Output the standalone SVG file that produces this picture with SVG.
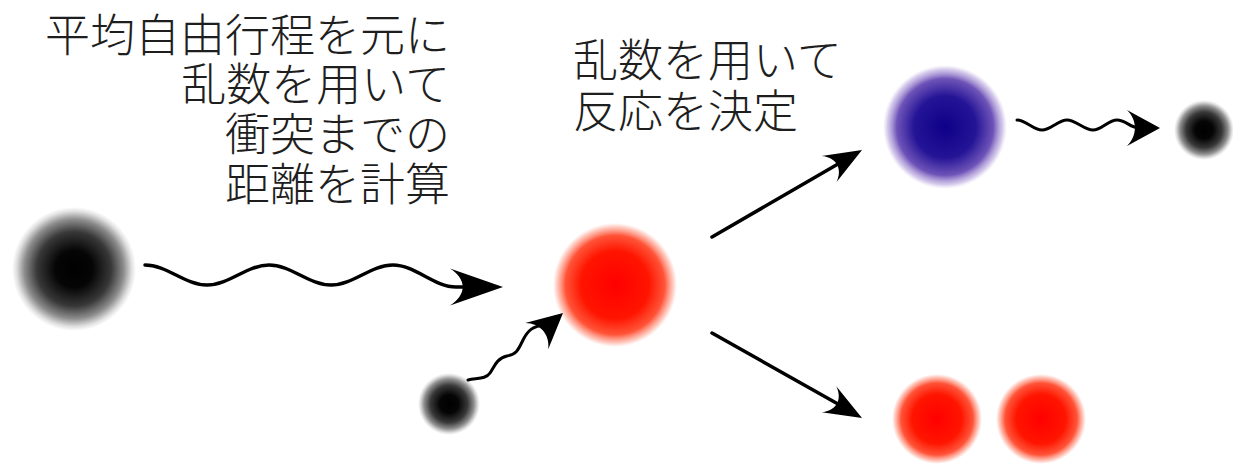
<svg xmlns="http://www.w3.org/2000/svg" width="1233" height="470" viewBox="0 0 1233 470" xmlns:xlink="http://www.w3.org/1999/xlink">
  <style>
    .label { font-family: "Noto Sans CJK JP", "Noto Sans CJK SC", sans-serif; font-size: 45px; font-weight: 300; fill: #1e1e1e; }
    .right { text-anchor: end; }
    .wire { fill: none; stroke: #000; stroke-width: 3.5; stroke-linecap: round; stroke-linejoin: round; }
    .thin { stroke-width: 3; }
    .head { fill: #000; }
  </style>
  <defs>
    <!-- soft-edged particles -->
    <radialGradient id="gBlack" cx="0.5" cy="0.5" r="0.5">
      <stop offset="0" stop-color="#000" stop-opacity="1"/>
      <stop offset="0.3" stop-color="#000" stop-opacity="0.98"/>
      <stop offset="0.6" stop-color="#000" stop-opacity="0.78"/>
      <stop offset="0.8" stop-color="#000" stop-opacity="0.45"/>
      <stop offset="0.93" stop-color="#000" stop-opacity="0.12"/>
      <stop offset="1" stop-color="#000" stop-opacity="0"/>
    </radialGradient>
    <radialGradient id="gRed" cx="0.5" cy="0.5" r="0.5">
      <stop offset="0" stop-color="#ff0000" stop-opacity="1"/>
      <stop offset="0.55" stop-color="#ff1500" stop-opacity="1"/>
      <stop offset="0.8" stop-color="#ff3515" stop-opacity="0.85"/>
      <stop offset="0.93" stop-color="#ff5a3a" stop-opacity="0.35"/>
      <stop offset="1" stop-color="#ff7050" stop-opacity="0"/>
    </radialGradient>
    <radialGradient id="gBlue" cx="0.5" cy="0.5" r="0.5">
      <stop offset="0" stop-color="#0e0088" stop-opacity="1"/>
      <stop offset="0.5" stop-color="#241496" stop-opacity="1"/>
      <stop offset="0.78" stop-color="#5a3cae" stop-opacity="0.88"/>
      <stop offset="0.93" stop-color="#9478cc" stop-opacity="0.4"/>
      <stop offset="1" stop-color="#b8a0e0" stop-opacity="0"/>
    </radialGradient>
    <!-- arrowhead: tip at origin, pointing +x, unit length and half-width -->
    <path id="head" class="head" d="M0,0 L-1,-1 C-0.68,-0.43 -0.68,0.43 -1,1 Z"/>
  </defs>

  <rect width="1233" height="470" fill="#fff"/>

  <!-- labels -->
  <g id="label-distance" class="label right">
    <text x="450" y="52">平均自由行程を元に</text>
    <text x="450" y="101">乱数を用いて</text>
    <text x="450" y="151">衝突までの</text>
    <text x="450" y="201">距離を計算</text>
  </g>
  <g id="label-reaction" class="label">
    <text x="573" y="77">乱数を用いて</text>
    <text x="573" y="128">反応を決定</text>
  </g>

  <!-- particles -->
  <g id="particle-incoming"><circle cx="74" cy="269" r="62" fill="url(#gBlack)"/></g>
  <g id="particle-target"><circle cx="615" cy="285" r="62" fill="url(#gRed)"/></g>
  <g id="particle-small"><circle cx="449" cy="404" r="31" fill="url(#gBlack)"/></g>
  <g id="particle-excited"><circle cx="945" cy="127" r="62" fill="url(#gBlue)"/></g>
  <g id="particle-emitted"><circle cx="1204" cy="130" r="30" fill="url(#gBlack)"/></g>
  <g id="particle-split-a"><circle cx="937" cy="419" r="45" fill="url(#gRed)"/></g>
  <g id="particle-split-b"><circle cx="1041" cy="419" r="45" fill="url(#gRed)"/></g>

  <!-- connectors -->
  <g id="connectors">
    <!-- free flight of the incoming particle -->
    <path class="wire" d="M145,265 C167,265 185,285 207,285 S247,265 269,265 S309,285 331,285 S371,265 393,265 S434,287 456,287 L470,287"/>
    <use xlink:href="#head" href="#head" transform="translate(503,287) scale(53,18.5)"/>

    <!-- small particle approaching the target -->
    <path class="wire thin" d="M468,380 C478,378 486,379 490,373 S497,358 507,356 S518,350 523,340 S533,326 545,325"/>
    <use xlink:href="#head" href="#head" transform="translate(563,313) rotate(-41.3) scale(35,17.5)"/>

    <!-- reaction branches -->
    <path class="wire" d="M712,237 L838,164"/>
    <use xlink:href="#head" href="#head" transform="translate(862,150) rotate(-30) scale(38,15)"/>
    <path class="wire" d="M712,333 L838,404"/>
    <use xlink:href="#head" href="#head" transform="translate(862,418) rotate(29.5) scale(38,15)"/>

    <!-- emission from the excited state -->
    <path class="wire thin" d="M1017,120 C1026,120 1033,130 1042,130 S1058,120 1067,120 S1084,130 1093,130 S1108,120 1117,120 S1130,128 1140,128"/>
    <use xlink:href="#head" href="#head" transform="translate(1160,128) scale(33,18)"/>
  </g>
</svg>
